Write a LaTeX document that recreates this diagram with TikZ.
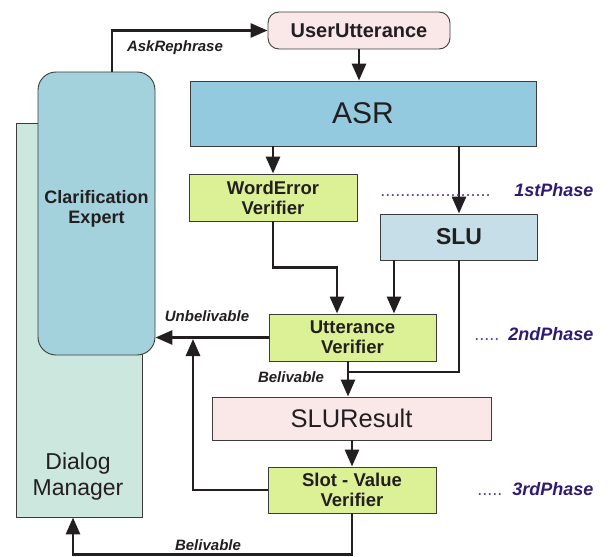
\documentclass[tikz,border=0pt]{standalone}
\usepackage{fontspec}
\setmainfont{Liberation Sans}
\usetikzlibrary{arrows.meta}
\definecolor{boxline}{HTML}{3C3C3C}
\definecolor{linec}{HTML}{231F20}
\definecolor{pinkfill}{HTML}{FAE8E8}
\definecolor{asrfill}{HTML}{93CADF}
\definecolor{cefill}{HTML}{A3D2DD}
\definecolor{dmfill}{HTML}{CCE7DD}
\definecolor{verfill}{HTML}{DCF096}
\definecolor{slufill}{HTML}{C6DEE7}
\definecolor{phasec}{HTML}{2D1B74}
\definecolor{dotc}{HTML}{5B3FA0}
\newcommand{\fsz}[2]{\fontsize{#1}{#2}\selectfont}

\begin{document}
\begin{tikzpicture}[x=1pt,y=-1pt,
    box/.style={draw=boxline, line width=0.9pt, inner sep=0pt, align=center, text=linec},
    verbox/.style={box, fill=verfill, font=\bfseries\fsz{18.5}{20}},
    wire/.style={draw=linec, line width=2.9pt},
    flow/.style={wire, -{Triangle[length=17pt,width=14pt]}},
    edgelab/.style={anchor=base, text=linec, font=\bfseries\itshape\fsz{15}{15}},
    phase/.style={anchor=base east, text=phasec, font=\bfseries\itshape\fsz{18}{18}}]
    \useasboundingbox (0,0) rectangle (609,556);

    % Dialog manager and clarification expert
    \node[box, fill=dmfill, minimum width=126pt, minimum height=394pt] (dm) at (79,320) {};
    \node[align=center, text=linec, font=\fsz{23}{26}] (dmtext) at (78,477) {Dialog\\Manager};
    \node[box, fill=cefill, rounded corners=18pt, minimum width=117pt, minimum height=283pt] (ce) at (96.5,213.5) {};
    \node[align=center, text=linec, font=\bfseries\fsz{18}{20}] (cetext) at (96.5,209) {Clarification\\Expert};

    % Recognition chain
    \node[box, fill=pinkfill, rounded corners=11pt, minimum width=182pt, minimum height=37pt,
          font=\bfseries\fsz{20}{20}] (utt) at (359,30.5) {UserUtterance};
    \node[box, fill=asrfill, minimum width=346pt, minimum height=65pt, font=\fsz{30}{30}] (asr) at (363,113.5) {ASR};
    \node[verbox, minimum width=168pt, minimum height=47pt] (wev) at (273,197.5) {WordError\\Verifier};
    \node[box, fill=slufill, minimum width=157pt, minimum height=46pt, font=\bfseries\fsz{23}{23}] (slu) at (459,237) {SLU};
    \node[verbox, minimum width=167pt, minimum height=47pt] (uv) at (352.5,337.5) {Utterance\\Verifier};
    \node[box, fill=pinkfill, minimum width=279pt, minimum height=43pt, font=\fsz{25.5}{25.5}] (slur) at (351.5,418.5) {SLUResult};
    \node[verbox, minimum width=168pt, minimum height=46pt] (svv) at (352,490) {Slot - Value\\Verifier};

    % Connectors
    \draw[flow] ([xshift=15.5pt]ce.north) |- (utt.west);
    \draw[flow] (utt.south) -- (utt.south |- asr.north);
    \draw[flow] (asr.south -| wev) -- (wev.north);
    \draw[flow] (asr.south -| slu) -- (slu.north);
    \draw[flow] (wev.south) -- ++(0,46) -| ([xshift=-15.5pt]uv.north);
    \draw[flow] ([xshift=-65pt]slu.south) -- ([xshift=-65pt]slu.south |- uv.north);
    \coordinate (join) at (348,372);
    \draw[wire] (slu.south) |- (join);
    \draw[flow] (uv.south -| join) -- (slur.north -| join);
    \draw[flow] (uv.west) -- (uv.west -| ce.east);
    \draw[flow] (slur.south -| svv) -- (svv.north);
    \coordinate (unbj) at (193,339);
    \draw[flow] (svv.west) -| (unbj);
    \draw[flow] (svv.south) -- ++(0,41) -| ([xshift=-6pt]dm.south);

    % Edge labels
    \node[edgelab] (askl) at (175,52) {AskRephrase};
    \node[edgelab] (unbl) at (207,321) {Unbelivable};
    \node[edgelab] (bel1) at (291,382) {Belivable};
    \node[edgelab] (bel2) at (208,550) {Belivable};

    % Phases
    \node[phase, text=dotc, font=\fsz{18}{18}] (ph1dots) at (494,196) {......................};
    \node[phase] (ph1) at (597,196) {1stPhase};
    \node[phase, text=dotc, font=\fsz{18}{18}] (ph2dots) at (503,340) {.....};
    \node[phase] (ph2) at (597,340) {2ndPhase};
    \node[phase, text=dotc, font=\fsz{18}{18}] (ph3dots) at (506,495) {.....};
    \node[phase] (ph3) at (597,495) {3rdPhase};
\end{tikzpicture}
\end{document}
